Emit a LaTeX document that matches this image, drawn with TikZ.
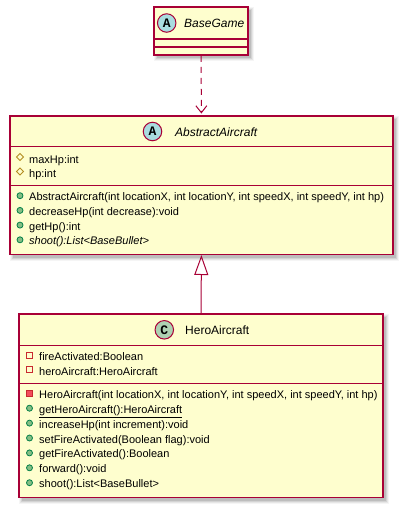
\documentclass[tikz,border=0pt]{standalone}
\usepackage{fontspec}
\setmainfont{Liberation Sans}
\newfontfamily\monob{Liberation Mono}
\usetikzlibrary{arrows.meta}
\definecolor{umlborder}{HTML}{A80036}
\definecolor{umlfill}{HTML}{FEFECE}
\definecolor{circA}{HTML}{A9DCDF}
\definecolor{circC}{HTML}{ADD1B2}
\definecolor{protcol}{HTML}{B38D22}
\definecolor{pubfill}{HTML}{84BE84}
\definecolor{publine}{HTML}{038048}
\definecolor{privline}{HTML}{C82930}
\definecolor{privfill}{HTML}{F24D5C}
\newcommand{\umlshadow}[4]{%
  \foreach \d/\o in {3/0.04,2/0.06,1/0.08,0/0.10}{%
    \fill[black,opacity=\o] ({#1+4-\d},{#2+4-\d}) rectangle ({#3+4+\d},{#4+4+\d});
  }}
\newcommand{\pubicon}[2]{\draw[publine, fill=pubfill, line width=0.8pt] (#1,{#2-5}) circle (3);}
\newcommand{\proticon}[2]{\draw[protcol, line width=0.8pt] (#1,{#2-9.5}) -- ({#1+3.5},{#2-6}) -- (#1,{#2-2.5}) -- ({#1-3.5},{#2-6}) -- cycle;}
\newcommand{\privattricon}[2]{\draw[privline, line width=0.8pt] ({#1-3},{#2-8.5}) rectangle ({#1+3},{#2-2.5});}
\newcommand{\privmethicon}[2]{\draw[privline, fill=privfill, line width=0.8pt] ({#1-3},{#2-8}) rectangle ({#1+3},{#2-2});}
\begin{document}
\begin{tikzpicture}[x=1pt,y=-1pt,
  classbox/.style={draw=umlborder, fill=umlfill, line width=1.5pt, inner sep=0, anchor=north west, rectangle},
  mem/.style={inner sep=0, anchor=base west, font=\fontsize{11}{13}\selectfont},
  cname/.style={inner sep=0, anchor=base west, font=\fontsize{12}{14}\selectfont},
  circ/.style={circle, draw=umlborder, line width=1pt, minimum size=18.5pt, inner sep=0, font=\monob\bfseries\fontsize{13}{13}\selectfont},
  sepline/.style={draw=umlborder, line width=1.5pt},
  rel/.style={draw=umlborder, line width=1pt}]
\useasboundingbox (0,0) rectangle (405,509);
\fill[white] (0,0) rectangle (405,509);

% shadows
\umlshadow{153.3}{6}{247.3}{54.3}
\umlshadow{9}{115}{392.3}{253.5}
\umlshadow{18.3}{313.3}{382.3}{496.7}

% BaseGame
\node[classbox, minimum width=94pt, minimum height=48.3pt] (base) at (153.3,6) {};
\draw[sepline] (153.3,39) -- (247.3,39);
\draw[sepline] (153.3,47) -- (247.3,47);
\node[circ, fill=circA] (baseC) at (166.7,23) {A};
\node[cname, font=\fontsize{12}{14}\selectfont\itshape] (baseN) at (184,27.4) {BaseGame};

% AbstractAircraft
\node[classbox, minimum width=383.3pt, minimum height=138.5pt] (abs) at (9,115) {};
\draw[sepline] (9,146.7) -- (392.3,146.7);
\draw[sepline] (9,185.7) -- (392.3,185.7);
\node[circ, fill=circA] (absC) at (152.5,131.5) {A};
\node[cname, font=\fontsize{12}{14}\selectfont\itshape] (absN) at (175,136) {AbstractAircraft};

\proticon{20}{163}
\node[mem] (a1) at (29,163) {maxHp:int};
\proticon{20}{177.5}
\node[mem] (a2) at (29,177.5) {hp:int};

\pubicon{20}{200.7}
\node[mem] (am1) at (29,200.7) {AbstractAircraft(int locationX, int locationY, int speedX, int speedY, int hp)};
\pubicon{20}{215.4}
\node[mem] (am2) at (29,215.4) {decreaseHp(int decrease):void};
\pubicon{20}{230.1}
\node[mem] (am3) at (29,230.1) {getHp():int};
\pubicon{20}{244.8}
\node[mem, font=\fontsize{11}{13}\selectfont\itshape] (am4) at (29,244.8) {shoot():List<BaseBullet>};

% HeroAircraft
\node[classbox, minimum width=364pt, minimum height=183.4pt] (hero) at (18.3,313.3) {};
\draw[sepline] (18.3,345.5) -- (382.3,345.5);
\draw[sepline] (18.3,383.5) -- (382.3,383.5);
\node[circ, fill=circC] (heroC) at (164.3,329.8) {C};
\node[cname] (heroN) at (185,334.3) {HeroAircraft};

\privattricon{29.5}{360.7}
\node[mem] (h1) at (39,360.7) {fireActivated:Boolean};
\privattricon{29.5}{375.3}
\node[mem] (h2) at (39,375.3) {heroAircraft:HeroAircraft};

\privmethicon{29.5}{398.3}
\node[mem] (hm1) at (39,398.3) {HeroAircraft(int locationX, int locationY, int speedX, int speedY, int hp)};
\pubicon{29.5}{413.2}
\node[mem] (hm2) at (39,413.2) {\underline{getHeroAircraft():HeroAircraft}};
\pubicon{29.5}{428.1}
\node[mem] (hm3) at (39,428.1) {increaseHp(int increment):void};
\pubicon{29.5}{443}
\node[mem] (hm4) at (39,443) {setFireActivated(Boolean flag):void};
\pubicon{29.5}{457.9}
\node[mem] (hm5) at (39,457.9) {getFireActivated():Boolean};
\pubicon{29.5}{472.8}
\node[mem] (hm6) at (39,472.8) {forward():void};
\pubicon{29.5}{487.7}
\node[mem] (hm7) at (39,487.7) {shoot():List<BaseBullet>};

% relations
\draw[rel, dash pattern=on 6pt off 5pt, -{Straight Barb[length=7pt,width=11pt]}, shorten >=1.5pt] (base.south) -- (abs.north);
\draw[rel, -{Triangle[open, length=20pt, width=14pt]}] (hero.north) -- (abs.south);
\end{tikzpicture}
\end{document}
